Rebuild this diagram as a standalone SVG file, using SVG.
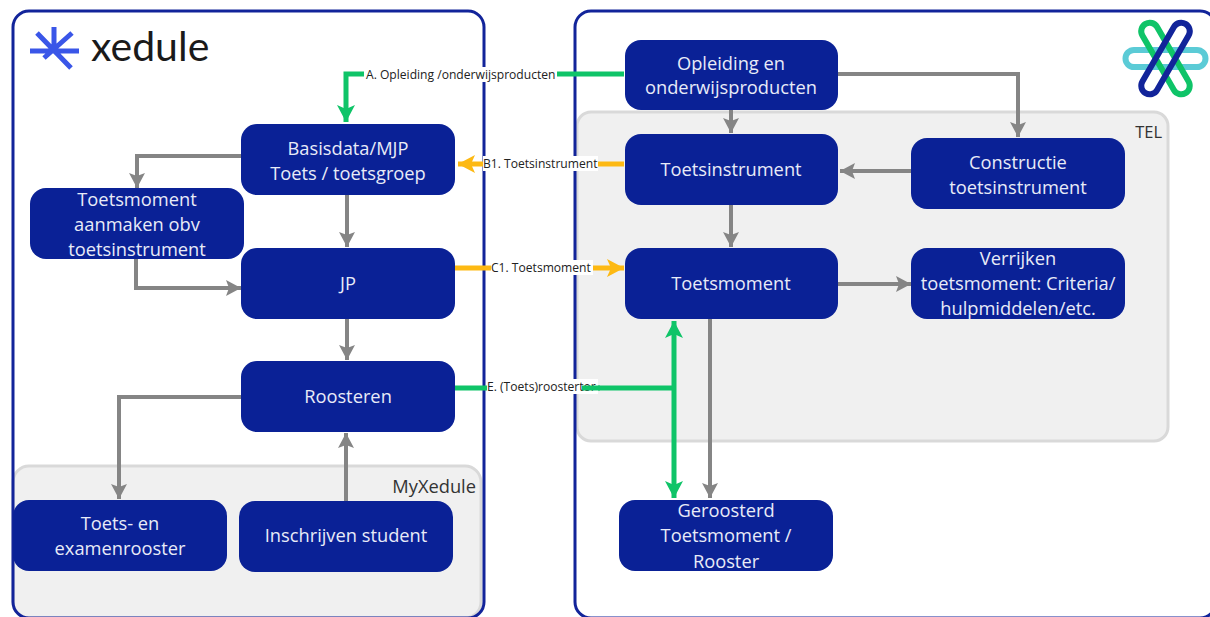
<svg xmlns="http://www.w3.org/2000/svg" width="1210" height="617" viewBox="0 0 1210 617">
<style>
text{font-family:"Open Sans","Noto Sans","Liberation Sans",sans-serif}
.frame{fill:none;stroke:#12249a;stroke-width:3}
.zone{fill:#f0f0f0;stroke:#d9d9d9;stroke-width:3}
.node rect{fill:#0a2196}
.node text{fill:#e8ebf8;font-size:18.300px;text-anchor:middle;transform:translateY(1px)}
.g{fill:none;stroke:#858585;stroke-width:4}
.gr{fill:none;stroke:#0fc468;stroke-width:5}
.y{fill:none;stroke:#fdb913;stroke-width:5}
.lab{font-size:12.100px;fill:#222}
.lbg{fill:#fff}
</style>
<defs>
<marker id="ag" markerUnits="userSpaceOnUse" markerWidth="18" markerHeight="16" refX="15" refY="8" orient="auto-start-reverse"><path d="M0 0L15 8L0 16L3 8Z" fill="#858585"/></marker>
<marker id="agr" markerUnits="userSpaceOnUse" markerWidth="18" markerHeight="20" refX="17" refY="9" orient="auto-start-reverse"><path d="M0 0L17 9L0 18L4 9Z" fill="#0fc468"/></marker>
<marker id="ay" markerUnits="userSpaceOnUse" markerWidth="18" markerHeight="20" refX="17" refY="9" orient="auto-start-reverse"><path d="M0 0L17 9L0 18L4 9Z" fill="#fdb913"/></marker>
</defs>
<rect width="1210" height="617" fill="#fff"/>
<g id="zone-myxedule"><rect class="zone" x="13" y="466" width="468" height="152" rx="16"/></g>
<g id="zone-tel"><rect class="zone" x="577" y="112" width="591" height="329" rx="14"/></g>
<rect class="frame" x="13" y="11" width="471" height="607" rx="16"/>
<rect class="frame" x="575" y="11" width="641" height="607" rx="16"/>
<g id="logo-xedule">
<path d="M54 27V50M30 51H79M37 33L71 68M72 33L44 58" fill="none" stroke="#3a56e8" stroke-width="5"/>
<text x="91" y="61" font-size="41" fill="#1a1a1a" style="font-family:Lato,'Liberation Sans',sans-serif">xedule</text>
</g>
<g id="logo-tel" fill="none" stroke-width="6">
<rect x="1125.500" y="50" width="80" height="17" rx="8.500" stroke="#5bcbd6"/>
<rect x="1125.500" y="50" width="80" height="17" rx="8.500" stroke="#0fc468" transform="rotate(60 1165.500 58.500)"/>
<rect x="1125.500" y="50" width="80" height="17" rx="8.500" stroke="#12249a" transform="rotate(-60 1165.500 58.500)"/>
</g>
<g id="connectors">
<path class="gr" d="M624 74H346V122" marker-end="url(#agr)"/>
<path class="y" d="M624 164H458" marker-end="url(#ay)"/>
<path class="y" d="M455 268H624" marker-end="url(#ay)"/>
<path class="gr" d="M454 388H674"/>
<path class="gr" d="M674 321V498" marker-start="url(#agr)" marker-end="url(#agr)"/>
<path class="g" d="M710 317V498" marker-end="url(#ag)"/>
<path class="g" d="M731 110V133" marker-end="url(#ag)"/>
<path class="g" d="M838 74H1018V137" marker-end="url(#ag)"/>
<path class="g" d="M911 171H840" marker-end="url(#ag)"/>
<path class="g" d="M731 205V247" marker-end="url(#ag)"/>
<path class="g" d="M838 284H911" marker-end="url(#ag)"/>
<path class="g" d="M241 156H137V188" marker-end="url(#ag)"/>
<path class="g" d="M347 195V247" marker-end="url(#ag)"/>
<path class="g" d="M136 259V288H241" marker-end="url(#ag)"/>
<path class="g" d="M347 319V360" marker-end="url(#ag)"/>
<path class="g" d="M241 397H119V499" marker-end="url(#ag)"/>
<path class="g" d="M346 501V433" marker-end="url(#ag)"/>
<g>
<rect class="lbg" x="364" y="67" width="193" height="15"/><text class="lab" x="366" y="79">A. Opleiding /onderwijsproducten</text>
<rect class="lbg" x="483" y="156" width="115" height="15"/><text class="lab" x="483" y="168">B1. Toetsinstrument</text>
<rect class="lbg" x="491" y="260" width="102" height="15"/><text class="lab" x="491" y="272">C1. Toetsmoment</text>
<rect class="lbg" x="487" y="379" width="111" height="15"/><text class="lab" x="487" y="391">E. (Toets)roostertor</text>
<path class="gr" d="M582 388H600"/>
</g>
</g>
<g id="n-opleiding" class="node"><rect x="625" y="40" width="213" height="70" rx="16"/><text x="731" y="69">Opleiding en</text><text x="731" y="93">onderwijsproducten</text></g>
<g id="n-toetsinstrument" class="node"><rect x="625" y="134" width="213" height="71" rx="16"/><text x="731" y="175">Toetsinstrument</text></g>
<g id="n-constructie" class="node"><rect x="911" y="138" width="214" height="71" rx="16"/><text x="1018" y="168">Constructie</text><text x="1018" y="193">toetsinstrument</text></g>
<g id="n-toetsmoment" class="node"><rect x="625" y="248" width="213" height="71" rx="16"/><text x="731" y="289">Toetsmoment</text></g>
<g id="n-verrijken" class="node"><rect x="911" y="248" width="214" height="71" rx="16"/><text x="1018" y="264">Verrijken</text><text x="1018" y="289">toetsmoment: Criteria/</text><text x="1018" y="314">hulpmiddelen/etc.</text></g>
<g id="n-geroosterd" class="node"><rect x="619" y="500" width="214" height="71" rx="16"/><text x="726" y="516">Geroosterd</text><text x="726" y="541">Toetsmoment /</text><text x="726" y="567">Rooster</text></g>
<g id="n-basisdata" class="node"><rect x="241" y="124" width="214" height="71" rx="16"/><text x="348" y="154">Basisdata/MJP</text><text x="348" y="179">Toets / toetsgroep</text></g>
<g id="n-aanmaken" class="node"><rect x="30" y="188" width="214" height="71" rx="16"/><text x="137" y="205">Toetsmoment</text><text x="137" y="230">aanmaken obv</text><text x="137" y="255">toetsinstrument</text></g>
<g id="n-jp" class="node"><rect x="241" y="248" width="214" height="71" rx="16"/><text x="348" y="289">JP</text></g>
<g id="n-roosteren" class="node"><rect x="241" y="361" width="214" height="71" rx="16"/><text x="348" y="402">Roosteren</text></g>
<g id="n-examenrooster" class="node"><rect x="13" y="500" width="214" height="71" rx="16"/><text x="120" y="529">Toets- en</text><text x="120" y="554">examenrooster</text></g>
<g id="n-inschrijven" class="node"><rect x="239" y="501" width="214" height="71" rx="16"/><text x="346" y="541">Inschrijven student</text></g>
<text x="476" y="493" font-size="18.300" fill="#333" text-anchor="end">MyXedule</text>
<text x="1162" y="138" font-size="16.500" fill="#333" text-anchor="end">TEL</text>
</svg>
